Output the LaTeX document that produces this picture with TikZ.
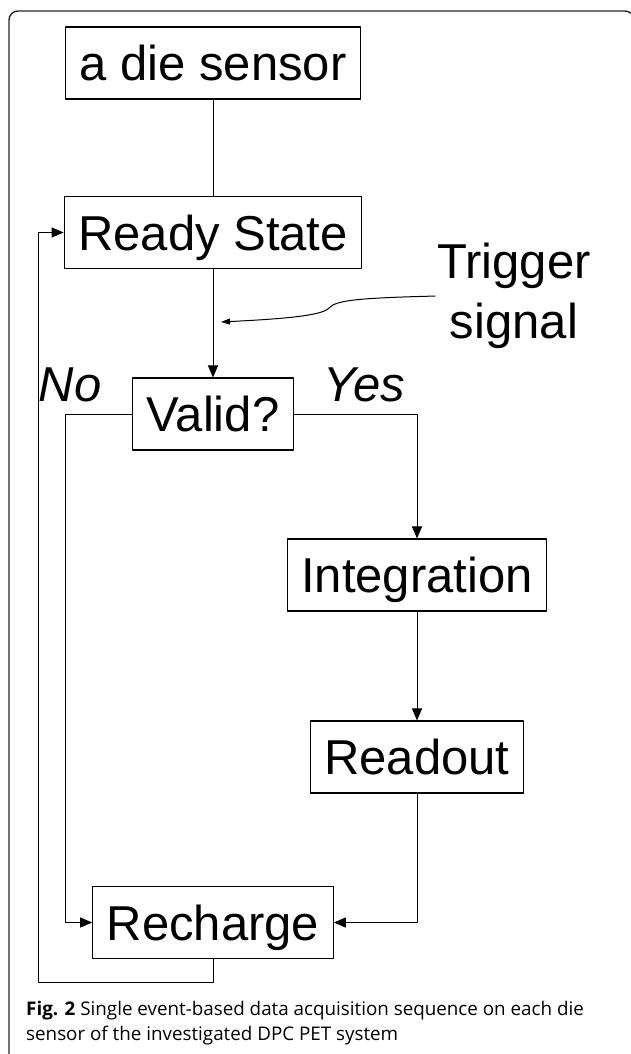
\documentclass[tikz,border=0pt]{standalone}
\usepackage{fontspec}
\setmainfont{Liberation Sans}
\newfontfamily\capfont{Open Sans}
\usetikzlibrary{arrows.meta}
\tikzset{
  box/.style={draw, line width=1.1pt, minimum height=72pt, inner xsep=14pt, text height=35pt, text depth=0pt, font=\fontsize{49}{60}\selectfont},
  lbl/.style={inner sep=0pt, text height=35pt, text depth=0pt, font=\fontsize{49}{60}\selectfont\itshape},
  flow/.style={line width=1pt, -{Triangle[length=12pt,width=10pt]}},
}
\begin{document}
\begin{tikzpicture}[x=1pt, y=-1pt, line join=round, line cap=round]
			\useasboundingbox (0,0) rectangle (630,1054);
			\draw[line width=1.4pt, rounded corners=9pt, black!85] (9,11) rectangle (634,1064);
			\node[box] (die) at (213,63) {a die sensor};
			\node[box] (ready) at (213,232.5) {Ready State};
			\node[box] (valid) at (213,414) {Valid?};
			\node[box] (integ) at (417,575) {Integration};
			\node[box] (readout) at (417,757) {Readout};
			\node[box] (recharge) at (213,922.5) {Recharge};
			\node[anchor=north, inner sep=0pt, align=center, font=\fontsize{49}{60}\selectfont] (trig) at (514,243) {Trigger\\signal};
			\node[lbl] (no) at (70,383.5) {No};
			\node[lbl] (yes) at (364.5,383.5) {Yes};
			\coordinate (tin) at (221,322);
			\coordinate (back) at (38,982);
			\draw[line width=1pt] (die) -- (ready);
			\draw[flow] (ready) -- (valid);
			\draw[line width=1pt, -{Triangle[length=9pt,width=6pt]}] ([xshift=-2pt]trig.west) .. controls (360,298) and (336,300) .. (329,308) .. controls (322,316) and (280,319) .. (tin);
			\draw[flow] (valid.west) -- ++(-67,0) |- (recharge.west);
			\draw[flow] (valid.east) -| (integ.north);
			\draw[flow] (integ) -- (readout);
			\draw[flow] (readout.south) |- (recharge.east);
			\draw[flow] (recharge.south) |- (back) |- (ready.west);
			\node[anchor=base west, inner sep=0pt, align=left, font=\capfont\fontsize{18.8}{25}\selectfont] (cap) at (26,1040) {\textbf{Fig. 2} Single event-based data acquisition sequence on each die\\sensor of the investigated DPC PET system};
		\end{tikzpicture}
\end{document}
